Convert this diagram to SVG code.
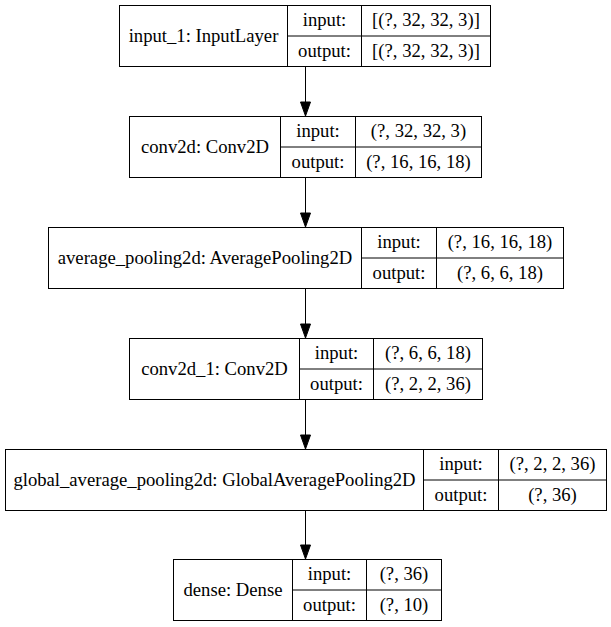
<svg xmlns="http://www.w3.org/2000/svg" width="611" height="627" viewBox="0 0 611 627">
<style>
.box{fill:#fff;stroke:#000;stroke-width:1}
.ln{stroke:#000;stroke-width:1;fill:none}
.t{font-family:"Liberation Serif","Times New Roman",serif;font-size:18.67px;fill:#000;text-anchor:middle}
.edge{stroke:#000;stroke-width:1;fill:none}
.head{fill:#000;stroke:#000;stroke-width:1}
</style>
<rect width="611" height="627" fill="#fff"/>
<g id="connectors">
<path class="edge" d="M305.5,66.5V102"/><polygon class="head" points="300.5,102 310.5,102 305.5,116"/>
<path class="edge" d="M305.5,177.5V213"/><polygon class="head" points="300.5,213 310.5,213 305.5,227"/>
<path class="edge" d="M305.5,288.5V324"/><polygon class="head" points="300.5,324 310.5,324 305.5,338"/>
<path class="edge" d="M305.5,399.5V435"/><polygon class="head" points="300.5,435 310.5,435 305.5,449"/>
<path class="edge" d="M305.5,510.5V545"/><polygon class="head" points="300.5,545 310.5,545 305.5,559"/>
</g>
<g id="input_1">
<rect class="box" x="119.5" y="5.5" width="371" height="61"/>
<path class="ln" d="M287.5,5.5V66.5M361.5,5.5V66.5M287.5,36H490.5"/>
<text class="t" x="203.5" y="41.5">input_1: InputLayer</text>
<text class="t" x="324.5" y="26.3">input:</text>
<text class="t" x="324.5" y="56.8">output:</text>
<text class="t" x="426" y="26.3">[(?, 32, 32, 3)]</text>
<text class="t" x="426" y="56.8">[(?, 32, 32, 3)]</text>
</g>
<g id="conv2d">
<rect class="box" x="129.5" y="116.5" width="352" height="61"/>
<path class="ln" d="M280.5,116.5V177.5M355.5,116.5V177.5M280.5,147H481.5"/>
<text class="t" x="205" y="152.5">conv2d: Conv2D</text>
<text class="t" x="318" y="137.3">input:</text>
<text class="t" x="318" y="167.8">output:</text>
<text class="t" x="418.5" y="137.3">(?, 32, 32, 3)</text>
<text class="t" x="418.5" y="167.8">(?, 16, 16, 18)</text>
</g>
<g id="average_pooling2d">
<rect class="box" x="48.5" y="227.5" width="515" height="61"/>
<path class="ln" d="M361.5,227.5V288.5M436.5,227.5V288.5M361.5,258H563.5"/>
<text class="t" x="205" y="263.5">average_pooling2d: AveragePooling2D</text>
<text class="t" x="399" y="248.3">input:</text>
<text class="t" x="399" y="278.8">output:</text>
<text class="t" x="500" y="248.3">(?, 16, 16, 18)</text>
<text class="t" x="500" y="278.8">(?, 6, 6, 18)</text>
</g>
<g id="conv2d_1">
<rect class="box" x="129.5" y="338.5" width="353" height="61"/>
<path class="ln" d="M299.5,338.5V399.5M373.5,338.5V399.5M299.5,369H482.5"/>
<text class="t" x="214.5" y="374.5">conv2d_1: Conv2D</text>
<text class="t" x="336.5" y="359.3">input:</text>
<text class="t" x="336.5" y="389.8">output:</text>
<text class="t" x="428" y="359.3">(?, 6, 6, 18)</text>
<text class="t" x="428" y="389.8">(?, 2, 2, 36)</text>
</g>
<g id="global_average_pooling2d">
<rect class="box" x="5.5" y="449.5" width="601" height="61"/>
<path class="ln" d="M423.5,449.5V510.5M498.5,449.5V510.5M423.5,480H606.5"/>
<text class="t" x="214.5" y="485.5">global_average_pooling2d: GlobalAveragePooling2D</text>
<text class="t" x="461" y="470.3">input:</text>
<text class="t" x="461" y="500.8">output:</text>
<text class="t" x="552.5" y="470.3">(?, 2, 2, 36)</text>
<text class="t" x="552.5" y="500.8">(?, 36)</text>
</g>
<g id="dense">
<rect class="box" x="173.5" y="559.5" width="268" height="61"/>
<path class="ln" d="M292.5,559.5V620.5M366.5,559.5V620.5M292.5,590H441.5"/>
<text class="t" x="233" y="595.5">dense: Dense</text>
<text class="t" x="329.5" y="580.3">input:</text>
<text class="t" x="329.5" y="610.8">output:</text>
<text class="t" x="404" y="580.3">(?, 36)</text>
<text class="t" x="404" y="610.8">(?, 10)</text>
</g>
</svg>
